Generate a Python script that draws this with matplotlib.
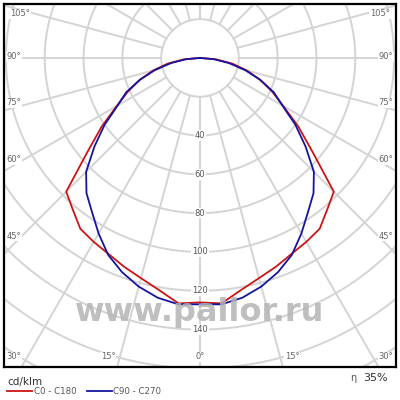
import numpy as np
import matplotlib
matplotlib.use('Agg')
import matplotlib.pyplot as plt

# luminous intensity, cd/klm, every 5 degrees from nadir
gamma = [0, 5, 10, 15, 20, 25, 30, 35, 40, 45, 50, 55, 60, 65, 70, 75, 80, 85, 90]
c0_c180 = [126, 127, 121.5, 117.5, 114.5, 111.5, 109.5, 107.5, 102, 97.5,
           76, 62, 49.5, 41, 33, 25, 17, 8.5, 0]
c90_c270 = [127, 127.5, 125.5, 122, 117.5, 112, 104.5, 97, 91, 83,
            71, 60, 49, 42, 33, 24, 15, 7, 0]

rings = [20, 40, 60, 80, 100, 120, 140, 160, 180, 200]
ring_labels = [40, 60, 80, 100, 120, 140]
side_labels = [105, 90, 75, 60, 45]
bottom_labels = [30, 15, 0]
efficiency = '35%'

fig = plt.figure(figsize=(4, 4), dpi=100)
ax = fig.add_axes([0.01, 0.0825, 0.98, 0.9075])
ax.set_xlim(-101, 101)
ax.set_ylim(-159.3, 27.8)
ax.set_xticks([])
ax.set_yticks([])
for s in ax.spines.values():
    s.set_linewidth(1.6)
    s.set_color('black')

grid_col = '#d4d4d4'
t = np.linspace(0, 2 * np.pi, 400)
for r in rings:
    ax.plot(r * np.cos(t), r * np.sin(t), color=grid_col, lw=1.4, zorder=1)
for a in range(-180, 181, 15):
    g = np.radians(a)
    ax.plot([20 * np.sin(g), 250 * np.sin(g)], [-20 * np.cos(g), -250 * np.cos(g)],
            color=grid_col, lw=1.4, zorder=1)

box = dict(facecolor='white', edgecolor='none', pad=0.6)
for v in ring_labels:
    ax.text(0, -v, str(v), ha='center', va='center', fontsize=6, color='#555555',
            bbox=box, zorder=2)

side_y = {105: 22.7, 90: 0.5, 75: -23.2, 60: -52.6, 45: -91.8}
for a in side_labels:
    xx = 92.8 if a == 105 else 95.9
    for sgn in (-1, 1):
        ax.text(sgn * xx, side_y[a], '%d°' % a, ha='center', va='center', fontsize=6,
                color='#666666', bbox=box, zorder=2)
bottom_x = {30: 95.9, 15: 47.4, 0: 0}
for a in bottom_labels:
    for sgn in ((-1, 1) if a else (1,)):
        ax.text(sgn * bottom_x[a], -154.1, '%d°' % a, ha='center', va='center', fontsize=6,
                color='#666666', bbox=box, zorder=2)

g = np.radians(np.array(gamma, dtype=float))
for vals, col in ((c0_c180, '#cc1414'), (c90_c270, '#14149e')):
    v = np.array(vals, dtype=float)
    xs = np.concatenate([-(v * np.sin(g))[::-1], (v * np.sin(g))[1:]])
    ys = np.concatenate([-(v * np.cos(g))[::-1], -(v * np.cos(g))[1:]])
    ax.plot(xs, ys, color=col, lw=1.3, zorder=3)

ax.text(0, -135.5, 'www.pallor.ru', ha='center', va='baseline', fontsize=23,
        fontweight='bold', color='#b4b4b4', alpha=0.85, zorder=4)

fig.text(0.018, 0.045, 'cd/klm', fontsize=7.5, color='#333333', va='center')
fig.add_artist(plt.Line2D([0.018, 0.08], [0.0225, 0.0225], color='#cc1414', lw=1.3))
fig.text(0.085, 0.0225, 'C0 - C180', fontsize=6.2, color='#555555', va='center')
fig.add_artist(plt.Line2D([0.218, 0.28], [0.0225, 0.0225], color='#14149e', lw=1.3))
fig.text(0.283, 0.0225, 'C90 - C270', fontsize=6.2, color='#555555', va='center')
fig.text(0.875, 0.055, 'η', fontsize=7, color='#555555', va='center')
fig.text(0.97, 0.055, efficiency, fontsize=8, color='#333333', va='center', ha='right')

fig.savefig('out.png', dpi=100)
